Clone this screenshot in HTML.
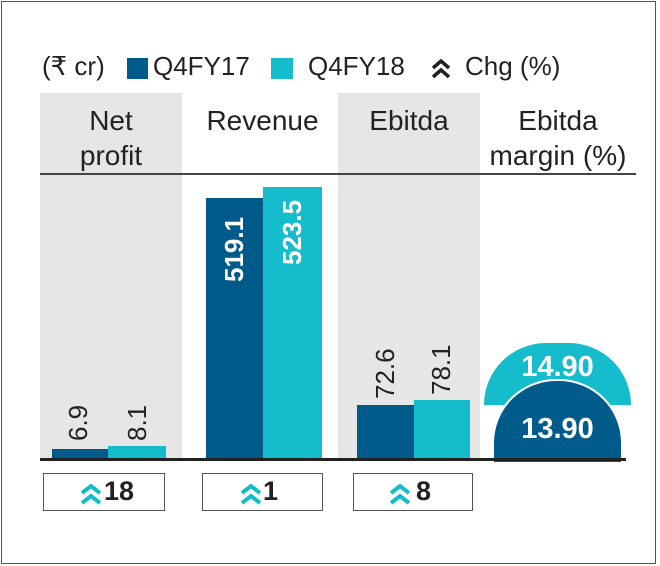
<!DOCTYPE html>
<html><head><meta charset="utf-8"><style>
body{margin:0;width:660px;height:566px;background:#fff;position:relative;overflow:hidden;font-family:"Liberation Sans",sans-serif;color:#222}
.a{position:absolute}
.g{background:#e6e6e6}
.d{background:#005b8a}.c{background:#14bccc}
.h{font-size:28px;text-align:center;line-height:35px}
.v{position:absolute;transform:rotate(-90deg);transform-origin:left top;font-size:26px;white-space:nowrap;line-height:26px}
.box{position:absolute;border:1.5px solid #555;height:36px;top:473px}
.L{position:absolute;top:51px;font-size:26px;white-space:nowrap}
</style></head><body>
<div class="a" style="left:1px;top:1px;width:653px;height:561px;border:1.5px solid #555"></div>
<div class="L" style="left:42px">(₹ cr)</div>
<div class="a d" style="left:127px;top:58px;width:21px;height:21px"></div>
<div class="L" style="left:153px">Q4FY17</div>
<div class="a c" style="left:271px;top:58px;width:22px;height:21px"></div>
<div class="L" style="left:308px">Q4FY18</div>
<svg class="a" style="left:431px;top:59px" width="20" height="20"><path d="M2 9 L10 2 L18 9 M2 18 L10 11 L18 18" fill="none" stroke="#222" stroke-width="3.5"/></svg>
<div class="L" style="left:465px">Chg (%)</div>
<div class="a g" style="left:40px;top:93px;width:142px;height:367px"></div>
<div class="a g" style="left:338px;top:93px;width:142px;height:367px"></div>
<div class="a h" style="left:40px;top:103px;width:142px">Net<br>profit</div>
<div class="a h" style="left:190px;top:103px;width:145px">Revenue</div>
<div class="a h" style="left:338px;top:103px;width:142px">Ebitda</div>
<div class="a h" style="left:480px;top:103px;width:156px">Ebitda<br>margin (%)</div>
<div class="a" style="left:40px;top:173px;width:596px;height:2px;background:#444"></div>
<div class="a d" style="left:52px;top:449px;width:56px;height:11px"></div>
<div class="a c" style="left:108px;top:446px;width:58px;height:14px"></div>
<div class="a d" style="left:206px;top:198px;width:57px;height:262px"></div>
<div class="a c" style="left:263px;top:187px;width:59px;height:273px"></div>
<div class="a d" style="left:357px;top:405px;width:57px;height:55px"></div>
<div class="a c" style="left:414px;top:400px;width:56px;height:60px"></div>
<div class="v" style="left:65px;top:441px">6.9</div>
<div class="v" style="left:124px;top:441px">8.1</div>
<div class="v" style="left:221px;top:282px;color:#fff;font-weight:bold">519.1</div>
<div class="v" style="left:279px;top:265px;color:#fff;font-weight:bold">523.5</div>
<div class="v" style="left:372px;top:399px">72.6</div>
<div class="v" style="left:428px;top:395px">78.1</div>
<div class="a c" style="left:484px;top:343px;width:147px;height:62px;border-radius:74px 74px 0 0"></div>
<div class="a d" style="left:492px;top:379px;width:127px;height:81px;border-radius:64px 64px 0 0;border:2px solid #fff;border-bottom:0"></div>
<div class="a" style="left:484px;top:351px;width:147px;text-align:center;color:#fff;font-size:29px;font-weight:bold">14.90</div>
<div class="a" style="left:492px;top:413px;width:131px;text-align:center;color:#fff;font-size:29px;font-weight:bold">13.90</div>
<div class="a" style="left:40px;top:458px;width:586px;height:3px;background:#222"></div>
<div class="box" style="left:43px;width:120px"></div>
<div class="box" style="left:202px;width:119px"></div>
<div class="box" style="left:353px;width:118px"></div>
<svg class="a" style="left:80px;top:483px" width="22" height="22"><path d="M2 10 L11 3 L20 10 M2 20 L11 13 L20 20" fill="none" stroke="#14bccc" stroke-width="4"/></svg>
<div class="a" style="left:104px;top:476px;font-size:27px;font-weight:bold">18</div>
<svg class="a" style="left:240px;top:483px" width="22" height="22"><path d="M2 10 L11 3 L20 10 M2 20 L11 13 L20 20" fill="none" stroke="#14bccc" stroke-width="4"/></svg>
<div class="a" style="left:263px;top:476px;font-size:27px;font-weight:bold">1</div>
<svg class="a" style="left:389px;top:483px" width="22" height="22"><path d="M2 10 L11 3 L20 10 M2 20 L11 13 L20 20" fill="none" stroke="#14bccc" stroke-width="4"/></svg>
<div class="a" style="left:416px;top:476px;font-size:27px;font-weight:bold">8</div>
</body></html>
